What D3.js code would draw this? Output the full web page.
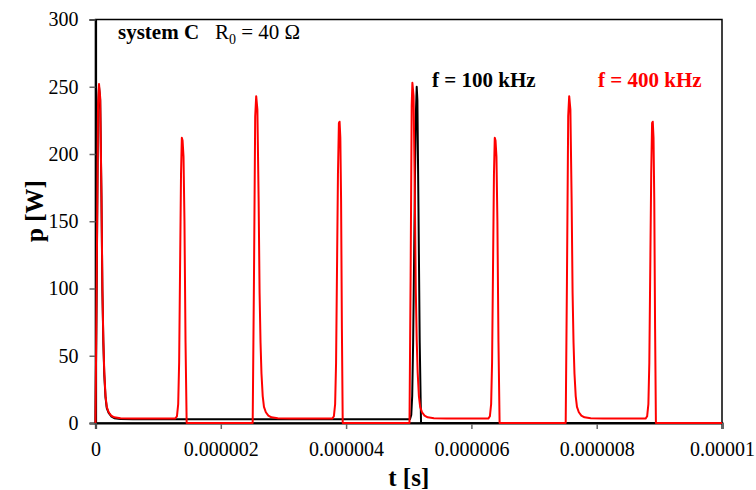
<!DOCTYPE html>
<html>
<head>
<meta charset="utf-8">
<script src="https://cdn.jsdelivr.net/npm/d3@7"></script>
<style>
  html, body { margin: 0; padding: 0; background: #fff; }
  svg { display: block; }
  text { font-family: "Liberation Serif", "Times New Roman", serif; }
</style>
</head>
<body>
<svg id="chart" width="756" height="490"></svg>
<script>
// ---- data ----
const xTickValues = [0, 0.000002, 0.000004, 0.000006, 0.000008, 0.00001];
const xTickLabels = ["0", "0.000002", "0.000004", "0.000006", "0.000008", "0.00001"];
const yTickValues = [0, 50, 100, 150, 200, 250, 300];
const yTickLabels = ["0", "50", "100", "150", "200", "250", "300"];

// f = 400 kHz (red): time in microseconds, power in W
const redTimeUs = [
  0, 0.02, 0.04, 0.056, 0.075, 0.095, 0.11, 0.125, 0.14, 0.16, 0.18, 0.21, 0.25, 0.3, 0.4, 0.6,
  1.27, 1.3, 1.32, 1.335, 1.35, 1.365, 1.378, 1.39, 1.405, 1.42, 1.437, 1.455,
  2.509, 2.529, 2.549, 2.565, 2.584, 2.604, 2.619, 2.634, 2.649, 2.669, 2.689, 2.719, 2.759, 2.809, 2.909, 3.109,
  3.78, 3.805, 3.825, 3.84, 3.855, 3.87, 3.885, 3.896, 3.908, 3.92, 3.933, 3.946,
  5.012, 5.03, 5.047, 5.058, 5.077, 5.097, 5.112, 5.127, 5.142, 5.162, 5.182, 5.212, 5.252, 5.302, 5.402, 5.602,
  6.27, 6.295, 6.315, 6.33, 6.345, 6.36, 6.373, 6.385, 6.4, 6.415, 6.432, 6.45,
  7.505, 7.525, 7.545, 7.561, 7.58, 7.6, 7.615, 7.63, 7.645, 7.665, 7.685, 7.715, 7.755, 7.805, 7.905, 8.105,
  8.78, 8.805, 8.825, 8.84, 8.855, 8.87, 8.884, 8.895, 8.907, 8.919, 8.932, 8.945,
  10
];
const redPower = [
  0, 110, 235, 252, 242, 170, 100, 62, 38, 20, 12, 8, 5.5, 4.2, 3.6, 3.3,
  3.3, 5, 14, 45, 115, 185, 212, 210, 198, 150, 60, 0,
  0, 105, 228, 243, 233, 165, 97, 60, 37, 20, 12, 8, 5.5, 4.2, 3.6, 3.3,
  3.3, 5, 14, 45, 115, 185, 223, 224, 212, 165, 70, 0,
  0, 110, 236, 253, 243, 170, 100, 62, 38, 20, 12, 8, 5.5, 4.2, 3.6, 3.3,
  3.3, 5, 14, 45, 115, 185, 212, 210, 198, 150, 60, 0,
  0, 105, 228, 243, 233, 165, 97, 60, 37, 20, 12, 8, 5.5, 4.2, 3.6, 3.3,
  3.3, 5, 14, 45, 115, 185, 223, 224, 212, 165, 70, 0,
  0
];

// f = 100 kHz (black)
const blackTimeUs = [
  0, 0.02, 0.04, 0.056, 0.075, 0.095, 0.11, 0.125, 0.14, 0.16, 0.18, 0.21, 0.25, 0.3, 0.4, 0.6,
  5.02, 5.04, 5.055, 5.07, 5.085, 5.1, 5.115, 5.127, 5.138, 5.155, 5.175, 5.196,
  10
];
const blackPower = [
  0, 108, 232, 250, 240, 168, 98, 60, 36, 19, 11, 7.5, 5, 3.6, 2.9, 2.8,
  2.8, 6, 20, 60, 120, 185, 232, 250, 240, 160, 60, 0,
  0
];

// ---- layout ----
const svg = d3.select("#chart");
const L = 95.5, R = 722, T = 19.5, B = 423;

const x = d3.scaleLinear().domain([0, 0.00001]).range([L, R]);
const y = d3.scaleLinear().domain([0, 300]).range([B, T]);

// frame
svg.append("rect")
  .attr("x", L).attr("y", T).attr("width", R - L).attr("height", B - T)
  .attr("fill", "none").attr("stroke", "#000").attr("stroke-width", 1.5);

// axes
const yAxis = d3.axisLeft(y).tickValues(yTickValues)
  .tickFormat((d, i) => yTickLabels[i]).tickSize(6).tickPadding(11);
const gy = svg.append("g").attr("transform", `translate(${L},0)`).call(yAxis);

const xAxis = d3.axisBottom(x).tickValues(xTickValues)
  .tickFormat((d, i) => xTickLabels[i]).tickSize(6).tickPadding(13);
const gx = svg.append("g").attr("transform", `translate(0,${B})`).call(xAxis);

[gx, gy].forEach(g => {
  g.select(".domain").attr("stroke", "#000").attr("stroke-width", 2.2);
  g.selectAll(".tick line").attr("stroke", "#666").attr("stroke-width", 1.5);
  g.selectAll(".tick text")
    .attr("fill", "#000")
    .style("font-family", '"Liberation Serif", "Times New Roman", serif')
    .style("font-size", "20px");
});

// lines
const line = d3.line().x(d => x(d[0] * 1e-6)).y(d => y(d[1]));
const blackData = blackTimeUs.map((t, i) => [t, blackPower[i]]);
const redData = redTimeUs.map((t, i) => [t, redPower[i]]);

svg.append("path").datum(blackData)
  .attr("d", line).attr("fill", "none").attr("stroke", "#000")
  .attr("stroke-width", 2).attr("stroke-linejoin", "round");
svg.append("path").datum(redData)
  .attr("d", line).attr("fill", "none").attr("stroke", "#ff0000")
  .attr("stroke-width", 2).attr("stroke-linejoin", "round");

// axis titles
svg.append("text").attr("x", (L + R) / 2).attr("y", 486)
  .attr("text-anchor", "middle").attr("font-weight", "bold")
  .style("font-size", "25px").text("t [s]");
svg.append("text")
  .attr("transform", `translate(43,211) rotate(-90)`)
  .attr("text-anchor", "middle").attr("font-weight", "bold")
  .style("font-size", "25px").text("p [W]");

// annotations
svg.append("text").attr("x", 118).attr("y", 39)
  .attr("font-weight", "bold").style("font-size", "21px").text("system C");
const rt = svg.append("text").attr("x", 215).attr("y", 39).style("font-size", "21px");
rt.append("tspan").text("R");
rt.append("tspan").attr("dy", 5).style("font-size", "14px").text("0");
rt.append("tspan").attr("dy", -5).text(" = 40 Ω");

svg.append("text").attr("x", 432).attr("y", 87)
  .attr("font-weight", "bold").style("font-size", "21px").attr("fill", "#000")
  .text("f = 100 kHz");
svg.append("text").attr("x", 598).attr("y", 87)
  .attr("font-weight", "bold").style("font-size", "21px").attr("fill", "#ff0000")
  .text("f = 400 kHz");
</script>
</body>
</html>
